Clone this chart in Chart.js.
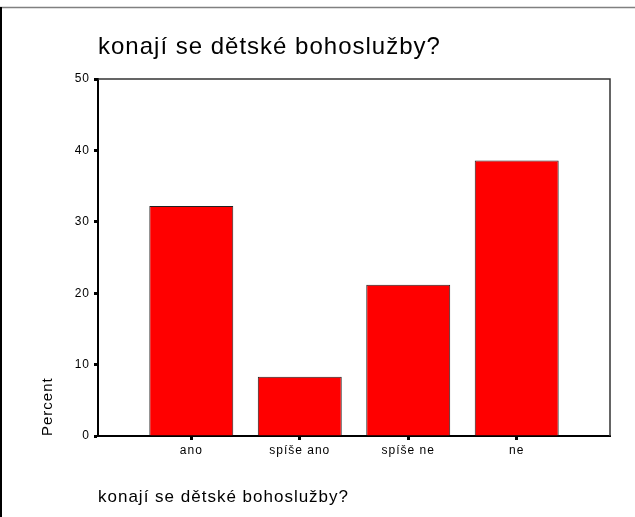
<!DOCTYPE html>
<html>
<head>
<meta charset="utf-8">
<script src="https://cdn.jsdelivr.net/npm/chart.js@4/dist/chart.umd.min.js"></script>
<style>
  html, body { margin: 0; padding: 0; background: #fff; }
  #wrap { width: 635px; height: 517px; }
</style>
</head>
<body>
<div id="wrap"><canvas id="chart" width="635" height="517"></canvas></div>
<script>
// values
const categories = ["ano", "spíše ano", "spíše ne", "ne"];
const percents = [32.2, 8.3, 21.2, 38.6];
const yTicks = [0, 10, 20, 30, 40, 50];
const chartTitle = "konají se dětské bohoslužby?";

// SPSS draws its text a little wide, so space the letters out a bit
const SPACING = "1px";

const widePlugin = {
  id: "wide",
  beforeLayout(chart) { chart.ctx.letterSpacing = SPACING; },
  beforeDraw(chart) {
    chart.ctx.letterSpacing = SPACING;
  },
  afterDraw(chart) {
    const { ctx, chartArea: a } = chart;
    ctx.save();
    // top and right sides of the plot frame
    ctx.strokeStyle = "#333";
    ctx.lineWidth = 1.5;
    ctx.beginPath();
    ctx.moveTo(a.left, a.top);
    ctx.lineTo(a.right, a.top);
    ctx.lineTo(a.right, a.bottom);
    ctx.stroke();
    // outer picture border
    ctx.strokeStyle = "#808080";
    ctx.lineWidth = 1.5;
    ctx.beginPath();
    ctx.moveTo(0, 7.5);
    ctx.lineTo(chart.width, 7.5);
    ctx.stroke();
    ctx.strokeStyle = "#000";
    ctx.lineWidth = 2;
    ctx.beginPath();
    ctx.moveTo(1, 7);
    ctx.lineTo(1, chart.height);
    ctx.stroke();
    ctx.restore();
  },
};

Chart.defaults.font.family = '"Liberation Sans", Arial, sans-serif';
Chart.defaults.color = "#000";

new Chart(document.getElementById("chart"), {
  type: "bar",
  data: {
    datasets: [{
      data: percents.map((v, i) => ({ x: i, y: v })),
      backgroundColor: "#FF0000",
      borderColor: "#222",
      borderWidth: 1,
      categoryPercentage: 1,
      barPercentage: 0.774,
    }],
  },
  options: {
    responsive: false,
    animation: false,
    devicePixelRatio: 1,
    layout: { padding: { left: 0, right: 25, top: 0, bottom: 0 } },
    plugins: {
      legend: { display: false },
      tooltip: { enabled: false },
      title: {
        display: true,
        text: chartTitle,
        align: "start",
        fullSize: false,
        color: "#000",
        font: { size: 24, weight: "normal" },
        padding: { top: 32.6, bottom: 17.6 },
      },
    },
    scales: {
      x: {
        type: "linear",
        offset: false,
        min: -0.86,
        max: 3.86,
        afterFit: (s) => { s.height = 81; },
        afterBuildTicks: (s) => { s.ticks = categories.map((c, i) => ({ value: i })); },
        ticks: {
          callback: (v) => categories[v],
          font: { size: 12 },
          padding: 3,
          maxRotation: 0,
          autoSkip: false,
        },
        grid: { offset: false, drawOnChartArea: false, tickLength: 4, tickWidth: 3, tickColor: "#000" },
        border: { display: true, color: "#000", width: 2 },
        title: {
          display: true,
          text: chartTitle,
          align: "start",
          font: { size: 17 },
          padding: { top: 0, bottom: 9.8 },
        },
      },
      y: {
        min: 0,
        max: 50,
        afterFit: (s) => { s.width = 98; },
        afterBuildTicks: (s) => { s.ticks = yTicks.map((v) => ({ value: v })); },
        ticks: { font: { size: 12 }, padding: 4 },
        grid: { drawOnChartArea: false, tickLength: 4, tickWidth: 3, tickColor: "#000" },
        border: { display: true, color: "#000", width: 2 },
        title: {
          display: true,
          text: "Percent",
          align: "start",
          font: { size: 15 },
          padding: { top: 38.5, bottom: 0 },
        },
      },
    },
  },
  plugins: [widePlugin],
});
</script>
</body>
</html>
